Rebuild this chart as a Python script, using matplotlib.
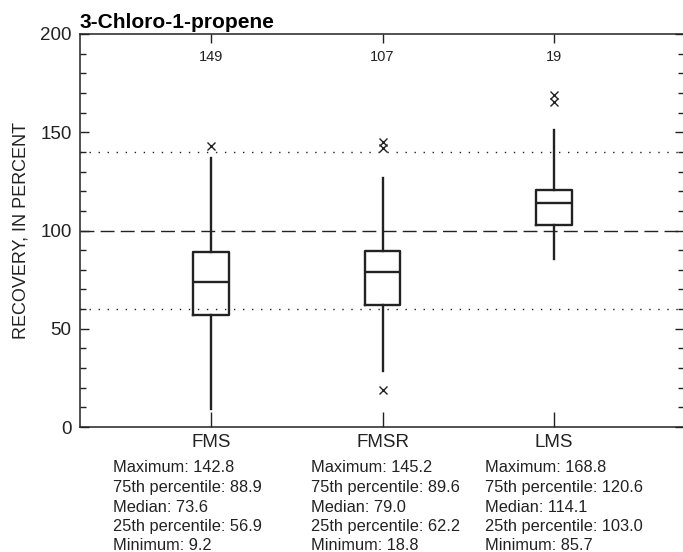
import matplotlib
matplotlib.use("Agg")
import matplotlib.pyplot as plt

plt.rcParams['font.family'] = ['Liberation Sans', 'DejaVu Sans']

# Sample groups and summary statistics (percent recovery)
groups = ["FMS", "FMSR", "LMS"]
counts = [149, 107, 19]
maximum = [142.8, 145.2, 168.8]
p75 = [88.9, 89.6, 120.6]
median = [73.6, 79.0, 114.1]
p25 = [56.9, 62.2, 103.0]
minimum = [9.2, 18.8, 85.7]
whisker_high = [137.0, 126.5, 151.0]
whisker_low = [9.2, 28.5, 85.7]
outliers = [[142.8], [142.2, 145.2, 18.8], [165.5, 168.8]]

title = "3-Chloro-1-propene"
ylabel = "RECOVERY, IN PERCENT"
ref_line = 100
control_limits = [60, 140]

ink = "#222222"
W, H = 683, 552
fig = plt.figure(figsize=(W / 100, H / 100), dpi=100)
ax = fig.add_axes([80 / W, 1 - 427 / H, (684 - 80) / W, (427 - 34) / H])

positions = [1, 2, 3]
stats = []
for i, g in enumerate(groups):
    stats.append(dict(label=g, med=median[i], q1=p25[i], q3=p75[i],
                      whislo=whisker_low[i], whishi=whisker_high[i],
                      fliers=outliers[i]))

ax.axhline(ref_line, color=ink, lw=1.0, ls=(0, (10, 4.5)), zorder=1)
for c in control_limits:
    ax.axhline(c, color=ink, lw=1.0, ls=(0, (1, 5.5)), zorder=1)

ax.bxp(stats, positions=positions, widths=0.205, showcaps=False,
       boxprops=dict(color=ink, lw=1.7),
       medianprops=dict(color=ink, lw=1.7),
       whiskerprops=dict(color=ink, lw=1.7),
       flierprops=dict(marker='x', markersize=6, markeredgecolor=ink,
                       markeredgewidth=1.0, linestyle='none'),
       manage_ticks=False, zorder=3)

ax.set_xlim(0.236, 3.758)
ax.set_ylim(0, 200)

for x, n in zip(positions, counts):
    ax.text(x, 188.3, str(n), ha='center', va='center', fontsize=10.5, color=ink)

ax.set_yticks([0, 50, 100, 150, 200])
ax.set_yticks(range(0, 201, 10), minor=True)
ax.tick_params(axis='y', which='both', direction='in', left=True, right=True,
               labelsize=13.5, colors=ink, pad=6)
ax.tick_params(axis='y', which='major', length=6.5, width=1.0)
ax.tick_params(axis='y', which='minor', length=4, width=1.0)

ax.set_xticks(positions)
ax.set_xticklabels(groups)
ax.tick_params(axis='x', which='major', direction='in', top=True, bottom=True,
               labelsize=13.5, colors=ink, pad=5, width=1.0)
for t in ax.xaxis.get_major_ticks():
    t.tick1line.set_markersize(11)
    t.tick2line.set_markersize(6.5)

for s in ax.spines.values():
    s.set_color(ink)
    s.set_linewidth(1.1)
ax.spines['right'].set_visible(False)

ax.set_ylabel(ylabel, fontsize=13, color=ink, labelpad=8)

fig.text(80 / W, 1 - 28 / H, title, fontsize=15, fontweight='bold',
         color='black', ha='left', va='baseline')

stat_left = [113, 311, 485]
line_y = [468, 487.5, 507, 526.5, 546]
for i in range(len(groups)):
    lines = [f"Maximum: {maximum[i]:.1f}",
             f"75th percentile: {p75[i]:.1f}",
             f"Median: {median[i]:.1f}",
             f"25th percentile: {p25[i]:.1f}",
             f"Minimum: {minimum[i]:.1f}"]
    for txt, y in zip(lines, line_y):
        fig.text(stat_left[i] / W, 1 - y / H, txt, fontsize=11.8, color=ink,
                 ha='left', va='center')

fig.savefig("out.png", dpi=100)
